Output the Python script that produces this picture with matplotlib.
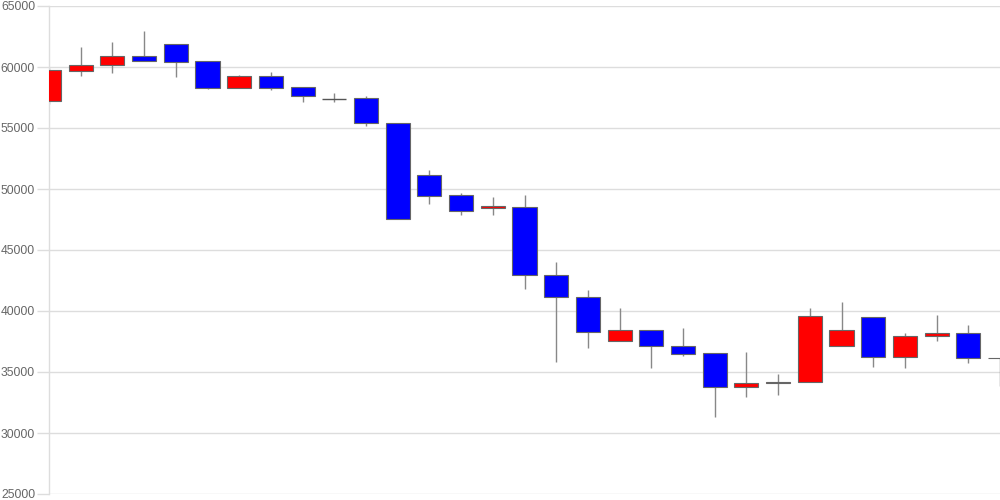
import matplotlib
matplotlib.use("Agg")
import matplotlib.pyplot as plt
import numpy as np

opens  = [57210, 59700, 60140, 60880, 61885, 60467, 58280, 59260, 58336, 57400,
          57434, 55410, 51122, 49483, 48470, 48549, 42975, 41171, 37540, 38466,
          37105, 36532, 33745, 34080, 34155, 37155, 39532, 36204, 37950, 38196,
          36180]
closes = [59730, 60164, 60877, 60490, 60434, 58278, 59262, 58280, 57647, 57400,
          55385, 47565, 49450, 48221, 48600, 42950, 41147, 38302, 38466, 37105,
          36499, 33745, 34097, 34160, 39564, 38466, 36204, 37975, 38196, 36147,
          36110]
highs  = [59900, 61640, 62050, 62950, 61885, 60467, 59320, 59590, 58336, 57870,
          57623, 55410, 51532, 49647, 49344, 49508, 43990, 41720, 40245, 38466,
          38606, 36532, 36640, 34835, 40245, 40762, 39532, 38196, 39672, 38853,
          36180]
lows   = [57000, 59290, 59510, 60490, 59180, 58200, 58280, 58115, 57130, 57130,
          55188, 47565, 48770, 47868, 47893, 41827, 35844, 36941, 37540, 35351,
          36310, 31335, 32974, 33088, 34155, 37155, 35410, 35351, 37564, 35712,
          33876]
yticks = [25000, 30000, 35000, 40000, 45000, 50000, 55000, 60000, 65000]

fig = plt.figure(figsize=(10, 5), dpi=100)
ax = fig.add_axes([0.049, 0.012, 0.951, 0.976])

x = np.arange(len(opens))
o = np.array(opens, float)
c = np.array(closes, float)
h = np.array(highs, float)
l = np.array(lows, float)

up = c > o
down = c < o
flat = c == o

ax.vlines(x, l, h, color="#888888", linewidth=1.0, zorder=2)
ax.bar(x[up], (c - o)[up], bottom=o[up], width=0.76, color="#ff0000",
       edgecolor="#666666", linewidth=0.8, zorder=3)
ax.bar(x[down], (c - o)[down], bottom=o[down], width=0.76, color="#0000ff",
       edgecolor="#666666", linewidth=0.8, zorder=3)
ax.hlines(o[flat], x[flat] - 0.38, x[flat] + 0.38, color="#555555",
          linewidth=1.0, zorder=3)

ax.set_xlim(0, 30)
ax.set_ylim(25000, 65000)
ax.set_yticks(yticks)
ax.set_yticklabels([str(v) for v in yticks], fontsize=8.7, color="#666666",
                   family=["Liberation Sans", "DejaVu Sans"])
ax.set_xticks([])
ax.tick_params(axis="y", length=9, color="#dddddd", width=1, pad=1)
ax.grid(axis="y", color="#dddddd", linewidth=1)
ax.set_axisbelow(True)
for s in ["top", "right", "bottom"]:
    ax.spines[s].set_visible(False)
ax.spines["left"].set_color("#dddddd")
ax.spines["left"].set_linewidth(1)

fig.savefig("out.png", dpi=100)
